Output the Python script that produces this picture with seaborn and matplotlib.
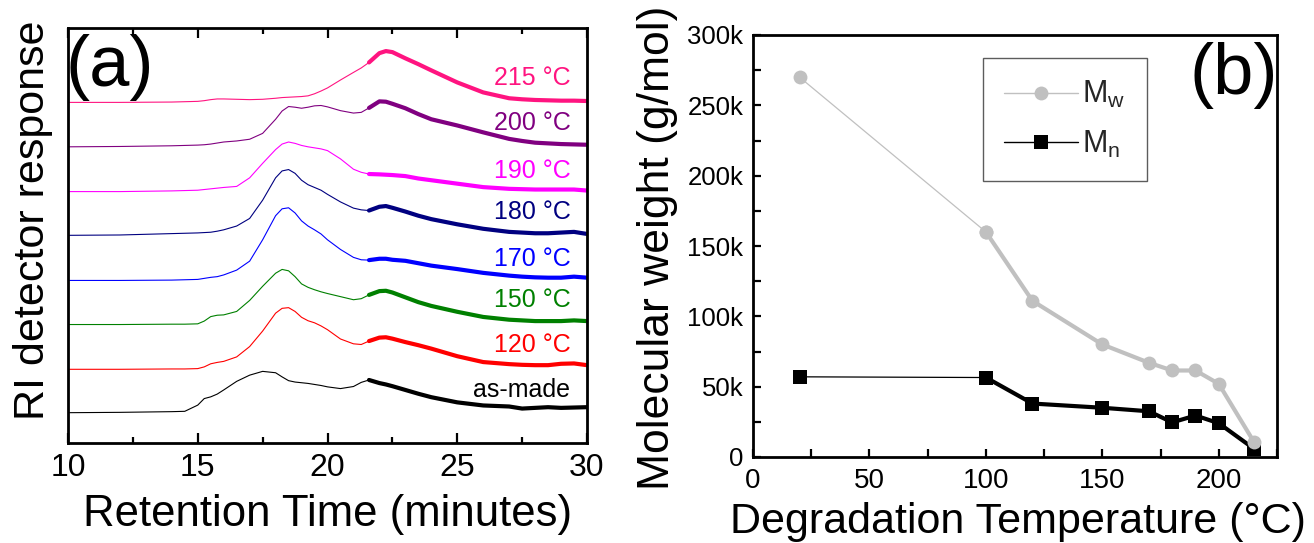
import matplotlib
matplotlib.use("Agg")
import matplotlib.pyplot as plt
import seaborn as sns
from matplotlib.lines import Line2D
from matplotlib.ticker import MultipleLocator, FixedLocator

sns.set_theme(style="white")
plt.rcParams['font.family'] = ['Liberation Sans', 'DejaVu Sans']
plt.rcParams['mathtext.fontset'] = 'custom'
plt.rcParams['mathtext.rm'] = 'Liberation Sans'
plt.rcParams['mathtext.it'] = 'Liberation Sans:italic'

# ---------------- panel (a) data: RI detector response (arbitrary units) ----------------
retention_time = [10, 12, 14, 14.5, 15, 15.25, 15.5, 15.75, 16, 16.5, 17, 17.5, 18, 18.25,
                  18.5, 18.75, 19, 19.25, 19.5, 19.75, 20, 20.5, 21, 21.3, 21.6, 22, 22.25,
                  22.5, 23, 23.5, 24, 25, 26, 27, 27.5, 28, 28.5, 29, 29.5, 30]
ri_as_made = [88, 89, 91, 92, 110, 129, 134, 142, 154, 179, 197, 208, 204, 192,
              181, 177, 175, 173, 170, 167, 163, 158, 164, 176, 183, 174, 170,
              165, 154, 143, 133, 118, 109, 106, 100, 102, 104, 102, 103, 104]
ri_120 = [214, 214, 215, 215, 216, 221, 230, 234, 237, 250, 280, 325, 377, 391,
          393, 382, 365, 355, 349, 340, 329, 302, 288, 286, 296, 306, 307,
          303, 293, 284, 274, 252, 235, 229, 227, 226, 226, 230, 231, 226]
ri_150 = [344, 344, 345, 345, 346, 354, 367, 371, 372, 382, 414, 455, 493, 504,
          500, 483, 462, 452, 445, 439, 434, 425, 416, 419, 430, 441, 442,
          437, 423, 409, 398, 381, 366, 358, 356, 354, 354, 354, 356, 354]
ri_170 = [472, 472, 473, 474, 475, 478, 481, 483, 488, 502, 528, 590, 660, 680,
          683, 668, 645, 630, 619, 607, 590, 562, 539, 532, 531, 535, 535,
          532, 529, 522, 515, 505, 494, 486, 483, 481, 480, 480, 483, 480]
ri_180 = [603, 604, 608, 609, 610, 611, 612, 615, 619, 630, 652, 705, 770, 790,
          794, 783, 763, 750, 742, 734, 722, 700, 682, 677, 675, 686, 688,
          683, 672, 660, 650, 635, 622, 613, 611, 609, 609, 611, 613, 607]
ri_190 = [730, 730, 732, 733, 734, 736, 738, 740, 742, 745, 770, 812, 852, 868,
          874, 870, 864, 860, 857, 854, 849, 825, 795, 786, 781, 780, 779,
          778, 775, 768, 763, 753, 743, 738, 737, 736, 736, 736, 736, 733]
ri_200 = [860, 861, 863, 864, 865, 866, 868, 871, 874, 877, 882, 899, 940, 964,
          977, 975, 972, 975, 979, 980, 976, 965, 958, 960, 973, 992, 991,
          985, 972, 955, 940, 922, 902, 883, 877, 872, 870, 868, 867, 866]
ri_215 = [989, 989, 990, 991, 992, 994, 997, 999, 999, 998, 997, 998, 1001, 1003,
          1004, 1005, 1006, 1008, 1014, 1022, 1031, 1054, 1076, 1089, 1105, 1132, 1138,
          1135, 1117, 1100, 1082, 1047, 1018, 1001, 998, 996, 995, 994, 994, 993]

curve_labels = ['as-made', '120 °C', '150 °C', '170 °C', '180 °C', '190 °C', '200 °C', '215 °C']
curve_colors = ['#000000', '#ff0000', '#008000', '#0000ff', '#000080', '#ff00ff', '#800080', '#ff1480']
label_y = [155, 285, 415, 535, 670, 790, 930, 1060]
split_time = 21.6

# ---------------- panel (b) data: molecular weight ----------------
degradation_temp = [20, 100, 120, 150, 170, 180, 190, 200, 215]
mw_values = [270000, 160000, 111000, 80000, 67000, 61500, 61500, 52000, 11000]
mn_values = [57000, 56500, 38000, 35000, 32500, 24600, 29500, 24000, 6000]
mw_color = '#c0c0c0'
mn_color = '#000000'
y_ticks_b = [0, 50000, 100000, 150000, 200000, 250000, 300000]
y_ticklabels_b = ['0', '50k', '100k', '150k', '200k', '250k', '300k']

W, H = 1314, 543
fig = plt.figure(figsize=(W / 100, H / 100), dpi=100)
fig.patch.set_facecolor('white')

# ---------------- panel (a) ----------------
axa = fig.add_axes([68 / W, 1 - 443 / H, 519 / W, 415 / H])
axa.set_facecolor('white')
series = [ri_as_made, ri_120, ri_150, ri_170, ri_180, ri_190, ri_200, ri_215]
k = retention_time.index(split_time)
for vals, col, lab, ly in zip(series, curve_colors, curve_labels, label_y):
    sns.lineplot(x=retention_time[:k + 1], y=vals[:k + 1], ax=axa, color=col,
                 linewidth=0.8, estimator=None, sort=False, legend=False)
    sns.lineplot(x=retention_time[k:], y=vals[k:], ax=axa, color=col,
                 linewidth=3.0, estimator=None, sort=False, legend=False)
    axa.text(29.36, ly, lab, ha='right', va='center', color=col, fontsize=18)

axa.set_xlim(10, 30)
axa.set_ylim(0, 1205)
axa.xaxis.set_major_locator(FixedLocator([10, 15, 20, 25, 30]))
axa.xaxis.set_minor_locator(MultipleLocator(2.5))
axa.set_yticks([])
axa.tick_params(axis='x', which='both', direction='in', bottom=True, top=True,
                colors='black', labelsize=23, pad=7)
axa.tick_params(axis='x', which='major', length=7, width=1.6)
axa.tick_params(axis='x', which='minor', length=4, width=1.6)
axa.set_xlabel('')
axa.set_ylabel('')
for s in axa.spines.values():
    s.set_visible(True)
    s.set_color('black')
    s.set_linewidth(2.0)
axa.text(0.081, 0.905, '(a)', transform=axa.transAxes, fontsize=52,
         ha='center', va='center', color='black')

fig.text(33 / W, 1 - 220 / H, 'RI detector response', rotation=90,
         ha='center', va='center', fontsize=31, color='black')
fig.text(328 / W, 1 - 526 / H, 'Retention Time (minutes)', ha='center',
         va='baseline', fontsize=31.5, color='black')

# ---------------- panel (b) ----------------
axb = fig.add_axes([753 / W, 1 - 457 / H, 524 / W, 422 / H])
axb.set_facecolor('white')
# Mn: thin first segment, thick afterwards
sns.lineplot(x=degradation_temp[:2], y=mn_values[:2], ax=axb, color=mn_color,
             linewidth=0.9, marker='s', markersize=10, markeredgewidth=0,
             estimator=None, sort=False, legend=False)
sns.lineplot(x=degradation_temp[1:], y=mn_values[1:], ax=axb, color=mn_color,
             linewidth=3.0, marker='s', markersize=10, markeredgewidth=0,
             estimator=None, sort=False, legend=False)
# Mw
sns.lineplot(x=degradation_temp[:2], y=mw_values[:2], ax=axb, color=mw_color,
             linewidth=0.9, marker='o', markersize=10, markeredgewidth=0,
             estimator=None, sort=False, legend=False)
sns.lineplot(x=degradation_temp[1:], y=mw_values[1:], ax=axb, color=mw_color,
             linewidth=3.0, marker='o', markersize=10, markeredgewidth=0,
             estimator=None, sort=False, legend=False)

axb.set_xlim(0, 225)
axb.set_ylim(0, 300000)
axb.xaxis.set_major_locator(FixedLocator([0, 50, 100, 150, 200]))
axb.xaxis.set_minor_locator(MultipleLocator(25))
axb.set_yticks(y_ticks_b)
axb.set_yticklabels(y_ticklabels_b)
axb.yaxis.set_minor_locator(MultipleLocator(25000))
axb.tick_params(axis='both', which='both', direction='in', bottom=True, left=True,
                top=False, right=False, length=6, width=1.6, colors='black')
axb.tick_params(axis='x', which='major', labelsize=20, pad=8)
axb.tick_params(axis='y', which='major', labelsize=18.5, pad=7)
axb.set_xlabel('')
axb.set_ylabel('')
for s in axb.spines.values():
    s.set_visible(True)
    s.set_color('black')
    s.set_linewidth(2.0)
axb.text(0.918, 0.903, '(b)', transform=axb.transAxes, fontsize=52,
         ha='center', va='center', color='black')

handles = [Line2D([], [], color=mw_color, lw=1.0, marker='o', markersize=10, markeredgewidth=0),
           Line2D([], [], color=mn_color, lw=1.0, marker='s', markersize=10, markeredgewidth=0)]
leg = axb.legend(handles, ['M$_\\mathregular{w}$', 'M$_\\mathregular{n}$'],
                 loc='upper left', bbox_to_anchor=(0.439, 0.9455), fontsize=22,
                 frameon=True, fancybox=False, handlelength=2.4, handletextpad=0.15,
                 borderpad=0.7, labelspacing=0.6, borderaxespad=0)
leg.get_frame().set_edgecolor('#333333')
leg.get_frame().set_linewidth(1.0)

fig.text(658 / W, 1 - 248 / H, 'Molecular weight (g/mol)', rotation=90,
         ha='center', va='center', fontsize=32, color='black')
fig.text(1018 / W, 1 - 533 / H, 'Degradation Temperature (°C)', ha='center',
         va='baseline', fontsize=31, color='black')

fig.savefig('out.png', dpi=100, facecolor='white')
